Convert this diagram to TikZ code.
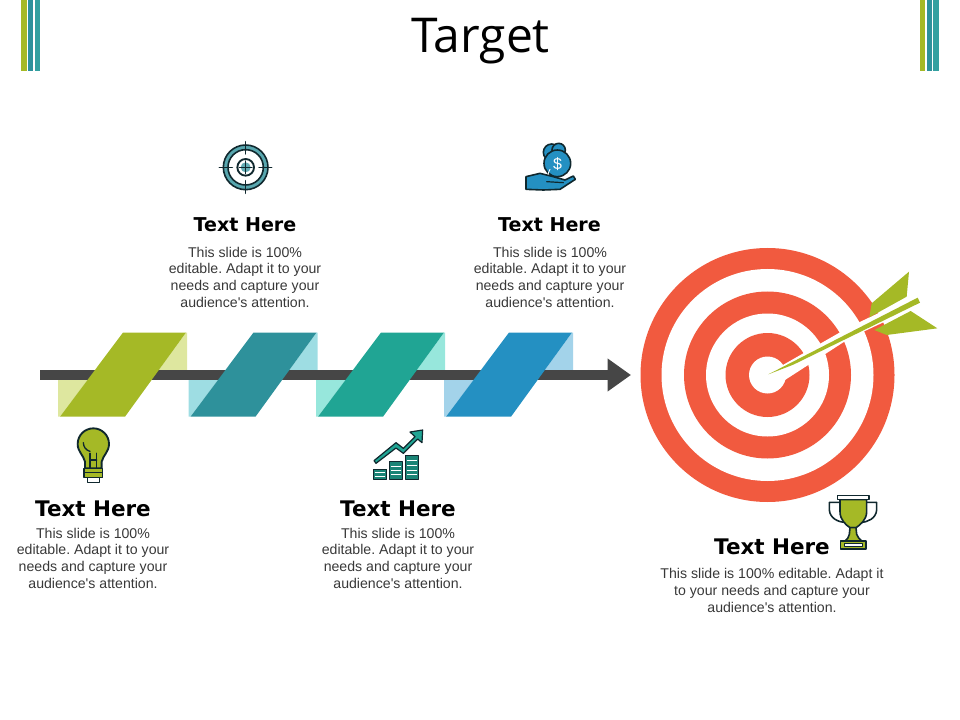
\documentclass[tikz,border=0pt]{standalone}
\usepackage{fontspec}
\setmainfont{Liberation Sans}
\newfontfamily\headfont{Open Sans}
\newfontfamily\subfont{DejaVu Sans}
\usetikzlibrary{arrows.meta}
\definecolor{cgreen}{HTML}{A5B926}
\definecolor{lgreen}{HTML}{DEE79F}
\definecolor{cteal}{HTML}{2E919B}
\definecolor{lteal}{HTML}{9EDDE3}
\definecolor{cjade}{HTML}{20A594}
\definecolor{ljade}{HTML}{97E7DC}
\definecolor{cblue}{HTML}{2490C2}
\definecolor{lblue}{HTML}{A3D3EA}
\definecolor{cbar}{HTML}{464646}
\definecolor{cred}{HTML}{F15A3F}
\definecolor{ctop}{HTML}{33A0A0}
\definecolor{cdark}{HTML}{10282E}
\tikzset{
 titletext/.style={font=\headfont\fontsize{36}{40}\selectfont,text=black,inner sep=0pt},
 headtext/.style={font=\subfont\bfseries\fontsize{14.3}{18}\selectfont,text=black,inner sep=0pt},
 bigheadtext/.style={font=\subfont\bfseries\fontsize{16.1}{20}\selectfont,text=black,inner sep=0pt},
 bodytext/.style={font=\frenchspacing\fontsize{10.6}{12.5}\selectfont,text=cbar!80!black,align=center,inner sep=0pt},
 icon/.style={x=0.25pt,y=-0.25pt,line join=round,line cap=round},
 ol/.style={draw=cdark,line width=1.2pt},
}
\newcommand{\lightpart}[2]{%
 \fill[#1] (58+#2,380)--(58+#2,416.7)--(60+#2,416.7)--(87.5+#2,380)--cycle;
 \fill[#1] (186+#2,332.5)--(187+#2,332.5)--(187+#2,370)--(158.8+#2,370)--cycle;}
\newcommand{\parapart}[2]{%
 \fill[#1] (60+#2,416.7)--(125+#2,416.7)--(186+#2,332.5)--(123+#2,332.5)--cycle;}
\newcommand{\slidetext}{This slide is 100\%\\editable. Adapt it to your\\needs and capture your\\audience\textquotesingle s attention.}
\begin{document}
\begin{tikzpicture}[x=0.75pt,y=-0.75pt]
\useasboundingbox (0,0) rectangle (960,720);
% top bars
\fill[cgreen] (21,0) rectangle (27,71);
\fill[cteal] (28,0) rectangle (33.3,71);
\fill[ctop] (35,0) rectangle (40,71);
\fill[cgreen] (920,0) rectangle (925,71);
\fill[cteal] (926.7,0) rectangle (932,71);
\fill[ctop] (933,0) rectangle (939,71);
\node[titletext] (title) at (480.5,41) {Target};
% ribbons
\lightpart{lgreen}{0}
\lightpart{lteal}{130.5}
\lightpart{ljade}{258}
\lightpart{lblue}{386}
\coordinate (barstart) at (40,375);
\coordinate (barend) at (631,375);
\draw[cbar,line width=7.5pt,-{Triangle[length=17.5pt,width=23.5pt]}] (barstart) -- (barend);
\parapart{cgreen}{0}
\parapart{cteal}{130.5}
\parapart{cjade}{258}
\parapart{cblue}{386}
% target
\fill[cred] (767.5,375) circle[radius=127*0.75pt];
\fill[white] (767.5,375) circle[radius=106*0.75pt];
\fill[cred] (767.5,375) circle[radius=83.5*0.75pt];
\fill[white] (767.5,375) circle[radius=61.5*0.75pt];
\fill[cred] (767.5,375) circle[radius=42*0.75pt];
\fill[white] (767.5,375) circle[radius=18.5*0.75pt];
% arrow
\begin{scope}[shift={(740,260)},icon]
 \fill[white] (85,343)--(120,320)--(330,200)--(540,100)--(545,133)--(330,234)--(135,360)--cycle;
 \fill[cgreen] (507,35)--(500,110)--(388,172)--(395,130)--cycle;
 \fill[cgreen] (512,153)--(592,205)--(440,225)--(403,210)--cycle;
 \fill[cgreen] (85,343)--(533,113)--(540,128)--(160,314)--cycle;
\end{scope}
% target icon
\begin{scope}[shift={(200,130)},icon]
 \draw[cteal!80!white,line width=3pt] (137,112) circle[radius=60];
 \draw[cdark,line width=1.2pt] (137,112) circle[radius=67];
 \draw[cdark,line width=1.2pt] (137,112) circle[radius=53];
 \filldraw[fill=white,draw=cdark,line width=1.4pt] (137,112) circle[radius=25];
 \fill[cteal!75!white] (137,112) circle[radius=15];
 \draw[cdark,line width=1.1pt] (137,35)--(137,72) (137,152)--(137,190) (58,112)--(97,112) (177,112)--(215,112) (118,112)--(156,112) (137,93)--(137,131);
\end{scope}
% money icon
\begin{scope}[shift={(510,130)},icon]
 \filldraw[fill=cblue,ol] (125,67) circle[radius=25];
 \filldraw[fill=cblue,ol] (146,60) circle[radius=20];
 \filldraw[fill=cblue,ol] (142,100) circle[radius=40];
 \draw[white,line width=0.6pt] (120,118) arc[start angle=215,end angle=140,radius=32];
 \node[text=white,font=\fontsize{12}{12}\selectfont,inner sep=0pt] (dollar) at (143,101) {\$};
 \filldraw[fill=cblue,ol] (48,140)--(90,130)--(130,140)--(165,150)--(190,138)--(196,148)--(150,178)--(100,180)--(48,178)--cycle;
 \draw[cdark,line width=0.9pt] (110,155)--(160,158);
\end{scope}
% bulb icon
\begin{scope}[shift={(60,420)},icon]
 \filldraw[fill=cgreen,ol,line width=1.4pt] (75,145)--(75,125) .. controls (70,105) and (53,95) .. (53,72) .. controls (53,45) and (75,25) .. (100,25) .. controls (125,25) and (147,45) .. (147,72) .. controls (147,95) and (130,105) .. (125,125)--(125,145)--cycle;
 \draw[cdark,line width=1pt] (70,68) arc[start angle=180,end angle=105,radius=27];
 \draw[cdark,line width=1.1pt] (90,145)--(90,100) (110,145)--(110,100) (90,120)--(110,120);
 \filldraw[fill=white,ol] (82,172)--(118,172)--(118,187)--(82,187)--cycle;
 \filldraw[fill=cgreen,ol] (72,145) rectangle (128,158);
 \filldraw[fill=cgreen,ol] (72,158) rectangle (128,173);
\end{scope}
% chart icon
\begin{scope}[shift={(360,420)},icon]
 \filldraw[fill=cjade!80!black,ol] (40,148) rectangle (80,178);
 \filldraw[fill=cjade!80!black,ol] (88,125) rectangle (128,178);
 \filldraw[fill=cjade!80!black,ol] (136,107) rectangle (176,178);
 \draw[white,line width=0.6pt] (46,158)--(74,158) (46,168)--(74,168) (94,138)--(122,138) (94,150)--(122,150) (94,164)--(122,164) (142,122)--(170,122) (142,136)--(170,136) (142,150)--(170,150) (142,164)--(170,164);
 \filldraw[fill=cjade,ol,line width=0.9pt] (42,122)--(108,68)--(130,85)--(165,50)--(150,36)--(188,30)--(186,68)--(173,57)--(130,100)--(108,84)--(48,130)--cycle;
\end{scope}
% trophy icon
\begin{scope}[shift={(810,485)},icon]
 \draw[cdark,line width=1.2pt] (90,52)--(58,52)--(58,75) .. controls (60,100) and (85,112) .. (107,112);
 \draw[cdark,line width=1.2pt] (170,52)--(200,52)--(200,75) .. controls (198,100) and (173,112) .. (152,112);
 \filldraw[fill=cgreen,ol] (90,44)--(170,44)--(170,80) .. controls (170,105) and (150,120) .. (138,128)--(120,128) .. controls (108,120) and (90,105) .. (90,80)--cycle;
 \filldraw[fill=cgreen,ol] (120,128)--(138,128)--(140,148) .. controls (142,158) and (150,162) .. (155,168)--(105,168) .. controls (110,162) and (118,158) .. (118,148)--cycle;
 \filldraw[fill=white,ol] (83,32) rectangle (177,44);
 \filldraw[fill=cgreen,ol] (92,168) rectangle (168,192);
 \filldraw[fill=white,ol,line width=0.7pt] (103,175) rectangle (157,185);
\end{scope}
% texts
\node[headtext] (h1) at (245,224.5) {Text Here};
\node[bodytext] (b1) at (245,277) {\slidetext};
\node[headtext] (h2) at (549.5,224.5) {Text Here};
\node[bodytext] (b2) at (550,277) {\slidetext};
\node[bigheadtext] (h3) at (93,508.5) {Text Here};
\node[bodytext] (b3) at (93,558) {\slidetext};
\node[bigheadtext] (h4) at (398,508.5) {Text Here};
\node[bodytext] (b4) at (398,558) {\slidetext};
\node[bigheadtext] (h5) at (772,546.5) {Text Here};
\node[bodytext] (b5) at (772,590.5) {This slide is 100\% editable. Adapt it\\to your needs and capture your\\audience\textquotesingle s attention.};
\end{tikzpicture}
\end{document}
